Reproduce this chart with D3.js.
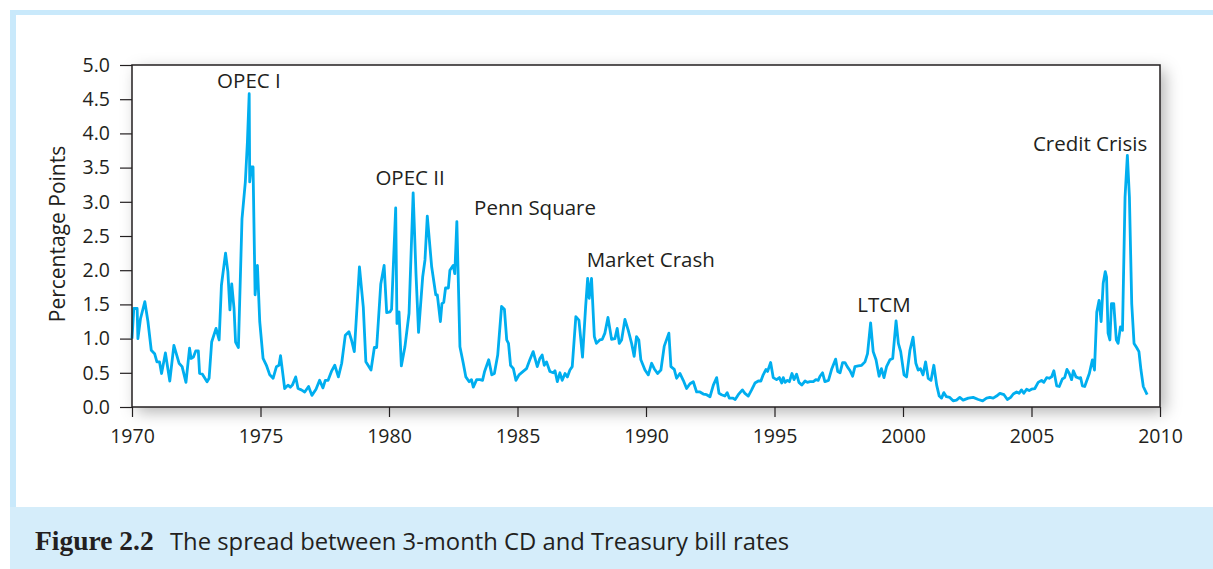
<!DOCTYPE html>
<html>
<head>
<meta charset="utf-8">
<script src="https://cdn.jsdelivr.net/npm/d3@7"></script>
<style>
  body { margin: 0; background: #fff; }
  text { fill: #231f20; font-family: "Open Sans", "Noto Sans", sans-serif; }
</style>
</head>
<body>
<div class="chartBox"></div>
<script>
// spread series (decimal year, percentage points)
var dates = [
  1970.0, 1970.07, 1970.2, 1970.23, 1970.33, 1970.5, 1970.62, 1970.75, 1970.88, 1970.97,
  1971.07, 1971.15, 1971.3, 1971.47, 1971.63, 1971.83, 1971.95, 1972.1, 1972.24, 1972.3,
  1972.39, 1972.48, 1972.58, 1972.63, 1972.74, 1972.92, 1973.0, 1973.1, 1973.27, 1973.39,
  1973.48, 1973.64, 1973.73, 1973.81, 1973.88, 1973.97, 1974.03, 1974.14, 1974.28, 1974.41,
  1974.49, 1974.56, 1974.58, 1974.64, 1974.71, 1974.79, 1974.88, 1974.97, 1975.1, 1975.23,
  1975.36, 1975.49, 1975.62, 1975.72, 1975.78, 1975.94, 1976.07, 1976.16, 1976.24, 1976.37,
  1976.46, 1976.59, 1976.72, 1976.87, 1977.0, 1977.16, 1977.3, 1977.43, 1977.52, 1977.63,
  1977.76, 1977.89, 1978.03, 1978.16, 1978.3, 1978.44, 1978.54, 1978.65, 1978.85, 1979.0,
  1979.1, 1979.3, 1979.43, 1979.52, 1979.68, 1979.81, 1979.91, 1980.04, 1980.1, 1980.26,
  1980.31, 1980.39, 1980.48, 1980.62, 1980.78, 1980.94, 1981.05, 1981.15, 1981.31, 1981.4,
  1981.49, 1981.66, 1981.82, 1981.88, 1982.0, 1982.06, 1982.13, 1982.2, 1982.31, 1982.37,
  1982.5, 1982.56, 1982.64, 1982.76, 1982.89, 1982.99, 1983.12, 1983.21, 1983.28, 1983.41,
  1983.54, 1983.64, 1983.72, 1983.88, 1984.0, 1984.1, 1984.23, 1984.38, 1984.49, 1984.58,
  1984.65, 1984.73, 1984.84, 1984.94, 1985.06, 1985.22, 1985.35, 1985.48, 1985.61, 1985.77,
  1985.87, 1985.96, 1986.04, 1986.13, 1986.26, 1986.39, 1986.46, 1986.55, 1986.65, 1986.74,
  1986.85, 1986.94, 1987.04, 1987.13, 1987.27, 1987.39, 1987.53, 1987.65, 1987.73, 1987.79,
  1987.88, 1987.99, 1988.07, 1988.2, 1988.3, 1988.4, 1988.52, 1988.66, 1988.79, 1988.88,
  1988.96, 1989.05, 1989.18, 1989.31, 1989.44, 1989.54, 1989.63, 1989.72, 1989.8, 1989.96,
  1990.09, 1990.22, 1990.32, 1990.45, 1990.58, 1990.71, 1990.89, 1990.97, 1991.1, 1991.19,
  1991.32, 1991.45, 1991.58, 1991.71, 1991.84, 1991.97, 1992.1, 1992.23, 1992.36, 1992.49,
  1992.62, 1992.75, 1992.84, 1992.94, 1993.07, 1993.16, 1993.24, 1993.37, 1993.47, 1993.59,
  1993.75, 1993.85, 1993.98, 1994.11, 1994.24, 1994.37, 1994.47, 1994.56, 1994.67, 1994.73,
  1994.85, 1994.95, 1995.08, 1995.19, 1995.28, 1995.34, 1995.41, 1995.5, 1995.58, 1995.68,
  1995.76, 1995.86, 1995.95, 1996.06, 1996.19, 1996.28, 1996.38, 1996.51, 1996.61, 1996.7,
  1996.77, 1996.87, 1996.96, 1997.1, 1997.23, 1997.38, 1997.46, 1997.55, 1997.65, 1997.74,
  1997.83, 1997.94, 1998.04, 1998.13, 1998.26, 1998.39, 1998.52, 1998.62, 1998.74, 1998.84,
  1998.95, 1999.07, 1999.16, 1999.26, 1999.36, 1999.49, 1999.6, 1999.73, 1999.82, 1999.91,
  2000.04, 2000.14, 2000.27, 2000.39, 2000.5, 2000.59, 2000.68, 2000.78, 2000.88, 2000.98,
  2001.09, 2001.2, 2001.31, 2001.41, 2001.5, 2001.59, 2001.69, 2001.82, 2001.95, 2002.08,
  2002.21, 2002.34, 2002.54, 2002.73, 2002.93, 2003.1, 2003.25, 2003.38, 2003.51, 2003.64,
  2003.77, 2003.93, 2004.06, 2004.19, 2004.29, 2004.42, 2004.52, 2004.61, 2004.7, 2004.81,
  2004.91, 2005.0, 2005.13, 2005.26, 2005.39, 2005.48, 2005.59, 2005.69, 2005.78, 2005.87,
  2005.98, 2006.08, 2006.2, 2006.29, 2006.38, 2006.47, 2006.56, 2006.63, 2006.73, 2006.85,
  2006.91, 2006.98, 2007.07, 2007.25, 2007.37, 2007.45, 2007.54, 2007.63, 2007.71, 2007.79,
  2007.87, 2007.92, 2007.98, 2008.05, 2008.11, 2008.2, 2008.3, 2008.37, 2008.46, 2008.54,
  2008.64, 2008.73, 2008.81, 2008.9, 2008.99, 2009.09, 2009.18, 2009.26, 2009.35, 2009.5
];

var spread = [
  1.0, 1.44, 1.44, 1.0, 1.29, 1.54, 1.25, 0.83, 0.78, 0.66,
  0.66, 0.49, 0.79, 0.38, 0.9, 0.64, 0.59, 0.36, 0.86, 0.71,
  0.73, 0.82, 0.82, 0.49, 0.48, 0.37, 0.42, 0.95, 1.15, 0.98,
  1.78, 2.25, 1.98, 1.42, 1.8, 1.44, 0.95, 0.87, 2.75, 3.29,
  3.87, 4.58, 3.29, 3.51, 3.51, 1.64, 2.07, 1.25, 0.71, 0.61,
  0.47, 0.42, 0.59, 0.61, 0.75, 0.27, 0.32, 0.29, 0.32, 0.44,
  0.27, 0.25, 0.22, 0.3, 0.17, 0.26, 0.39, 0.28, 0.39, 0.39,
  0.52, 0.61, 0.44, 0.64, 1.05, 1.1, 0.98, 0.81, 2.05, 1.46,
  0.66, 0.54, 0.87, 0.87, 1.8, 2.07, 1.38, 1.39, 1.43, 2.91,
  1.22, 1.39, 0.6, 0.88, 1.37, 3.13, 1.95, 1.09, 1.9, 2.15,
  2.79, 2.05, 1.64, 1.64, 1.25, 1.51, 1.53, 1.74, 1.74, 2.0,
  2.07, 1.95, 2.71, 0.88, 0.64, 0.44, 0.37, 0.4, 0.29, 0.4,
  0.4, 0.39, 0.52, 0.69, 0.47, 0.49, 0.76, 1.47, 1.43, 0.98,
  0.93, 0.61, 0.56, 0.39, 0.47, 0.52, 0.56, 0.69, 0.81, 0.59,
  0.71, 0.76, 0.61, 0.66, 0.52, 0.5, 0.53, 0.37, 0.5, 0.39,
  0.49, 0.44, 0.54, 0.59, 1.32, 1.27, 0.73, 1.46, 1.88, 1.59,
  1.88, 1.03, 0.93, 0.98, 0.99, 1.08, 1.31, 0.99, 1.0, 1.15,
  0.93, 0.98, 1.28, 1.12, 0.93, 0.74, 1.03, 0.98, 0.69, 0.54,
  0.47, 0.64, 0.56, 0.49, 0.54, 0.89, 1.08, 0.59, 0.55, 0.42,
  0.49, 0.39, 0.27, 0.34, 0.37, 0.22, 0.22, 0.19, 0.18, 0.15,
  0.32, 0.43, 0.2, 0.18, 0.16, 0.21, 0.13, 0.13, 0.11, 0.18,
  0.25, 0.2, 0.16, 0.25, 0.35, 0.38, 0.38, 0.47, 0.55, 0.52,
  0.65, 0.43, 0.4, 0.43, 0.35, 0.43, 0.36, 0.39, 0.37, 0.49,
  0.4, 0.48, 0.36, 0.32, 0.38, 0.36, 0.37, 0.37, 0.4, 0.39,
  0.45, 0.5, 0.37, 0.39, 0.56, 0.7, 0.52, 0.5, 0.65, 0.65,
  0.59, 0.53, 0.45, 0.59, 0.6, 0.61, 0.66, 0.78, 1.23, 0.81,
  0.69, 0.45, 0.56, 0.43, 0.59, 0.69, 0.71, 1.26, 0.93, 0.81,
  0.47, 0.44, 0.83, 1.02, 0.64, 0.54, 0.56, 0.47, 0.66, 0.42,
  0.39, 0.61, 0.32, 0.16, 0.13, 0.21, 0.15, 0.14, 0.09, 0.1,
  0.14, 0.1, 0.13, 0.14, 0.11, 0.09, 0.13, 0.14, 0.13, 0.16,
  0.2, 0.18, 0.11, 0.14, 0.19, 0.22, 0.2, 0.25, 0.2, 0.26,
  0.24, 0.26, 0.27, 0.36, 0.39, 0.36, 0.43, 0.42, 0.44, 0.53,
  0.31, 0.3, 0.41, 0.43, 0.55, 0.49, 0.4, 0.53, 0.44, 0.42,
  0.43, 0.31, 0.3, 0.49, 0.69, 0.54, 1.39, 1.56, 1.25, 1.81,
  1.98, 1.9, 1.08, 0.98, 1.51, 1.51, 0.98, 0.93, 1.17, 1.12,
  3.07, 3.68, 3.07, 1.51, 0.93, 0.87, 0.81, 0.54, 0.3, 0.18
];

var yTicks = [0, 0.5, 1, 1.5, 2, 2.5, 3, 3.5, 4, 4.5, 5];
var xTicks = [1970, 1975, 1980, 1985, 1990, 1995, 2000, 2005, 2010];

// event labels, anchored in data units
var events = ['OPEC I', 'OPEC II', 'Penn Square', 'Market Crash', 'LTCM', 'Credit Crisis'];
var eventYear = [1974.55, 1980.82, 1983.31, 1987.69, 1999.26, 2007.28];
var eventValue = [4.67, 3.24, 2.8, 2.05, 1.39, 3.74];
var eventAnchor = ['middle', 'middle', 'start', 'start', 'middle', 'middle'];

var W = 1213, H = 569;
var plot = { left: 132, right: 1160, top: 65, bottom: 407 };

var svg = d3.select('div.chartBox')
  .append('svg')
  .attr('width', W)
  .attr('height', H);

var defs = svg.append('defs');
var f = defs.append('filter')
  .attr('id', 'shadow')
  .attr('x', '-10%').attr('y', '-20%')
  .attr('width', '130%').attr('height', '150%');
f.append('feDropShadow')
  .attr('dx', 5).attr('dy', 5)
  .attr('stdDeviation', 8)
  .attr('flood-color', '#000')
  .attr('flood-opacity', 0.3);

// page frame + caption band
svg.append('rect').attr('x', 10).attr('y', 10).attr('width', W - 10).attr('height', 5).attr('fill', '#c9e9fb');
svg.append('rect').attr('x', 10).attr('y', 10).attr('width', 6).attr('height', 497).attr('fill', '#c9e9fb');
svg.append('rect').attr('x', 10).attr('y', 507).attr('width', W - 10).attr('height', H - 507).attr('fill', '#d5edfa');

var x = d3.scaleLinear().domain([1970, 2010]).range([plot.left, plot.right]);
var y = d3.scaleLinear().domain([0, 5]).range([plot.bottom, plot.top]);

// plot panel with soft shadow
svg.append('rect')
  .attr('x', plot.left).attr('y', plot.top)
  .attr('width', plot.right - plot.left).attr('height', plot.bottom - plot.top)
  .attr('fill', '#fff')
  .attr('filter', 'url(#shadow)');

var yAxis = svg.append('g')
  .attr('transform', 'translate(' + plot.left + ',0)')
  .call(d3.axisLeft(y).tickValues(yTicks).tickFormat(d3.format('.1f')).tickSize(12).tickPadding(10));

var xAxis = svg.append('g')
  .attr('transform', 'translate(0,' + plot.bottom + ')')
  .call(d3.axisBottom(x).tickValues(xTicks).tickFormat(d3.format('d')).tickSize(10).tickPadding(12));

[yAxis, xAxis].forEach(function(a) {
  a.select('.domain').remove();
  a.selectAll('line').attr('stroke', '#231f20').attr('stroke-width', 1.2);
  a.selectAll('text').attr('fill', '#231f20').style('font-size', '19.5px')
    .style('font-family', '"Open Sans", "Noto Sans", sans-serif');
});

var series = dates.map(function(d, i) { return [d, spread[i]]; });

var line = d3.line()
  .x(function(d) { return x(d[0]); })
  .y(function(d) { return y(d[1]); });

svg.append('path')
  .datum(series)
  .attr('d', line)
  .attr('fill', 'none')
  .attr('stroke', '#00aeef')
  .attr('stroke-width', 2.8)
  .attr('stroke-linejoin', 'round');

// frame on top
svg.append('rect')
  .attr('x', plot.left).attr('y', plot.top)
  .attr('width', plot.right - plot.left).attr('height', plot.bottom - plot.top)
  .attr('fill', 'none')
  .attr('stroke', '#231f20')
  .attr('stroke-width', 1.5);

svg.selectAll('text.event')
  .data(events)
  .enter()
  .append('text')
  .attr('class', 'event')
  .attr('x', function(d, i) { return x(eventYear[i]); })
  .attr('y', function(d, i) { return y(eventValue[i]); })
  .attr('text-anchor', function(d, i) { return eventAnchor[i]; })
  .style('font-size', '20.5px')
  .text(function(d) { return d; });

svg.append('text')
  .attr('transform', 'translate(65,234) rotate(-90)')
  .attr('text-anchor', 'middle')
  .style('font-size', '21px')
  .text('Percentage Points');

// caption
svg.append('text')
  .attr('x', 35).attr('y', 550)
  .style('font-family', '"Liberation Serif", "DejaVu Serif", serif')
  .style('font-weight', 'bold')
  .style('font-size', '27.5px')
  .text('Figure 2.2');

svg.append('text')
  .attr('x', 170).attr('y', 550)
  .style('font-size', '23.8px')
  .text('The spread between 3-month CD and Treasury bill rates');
</script>
</body>
</html>
